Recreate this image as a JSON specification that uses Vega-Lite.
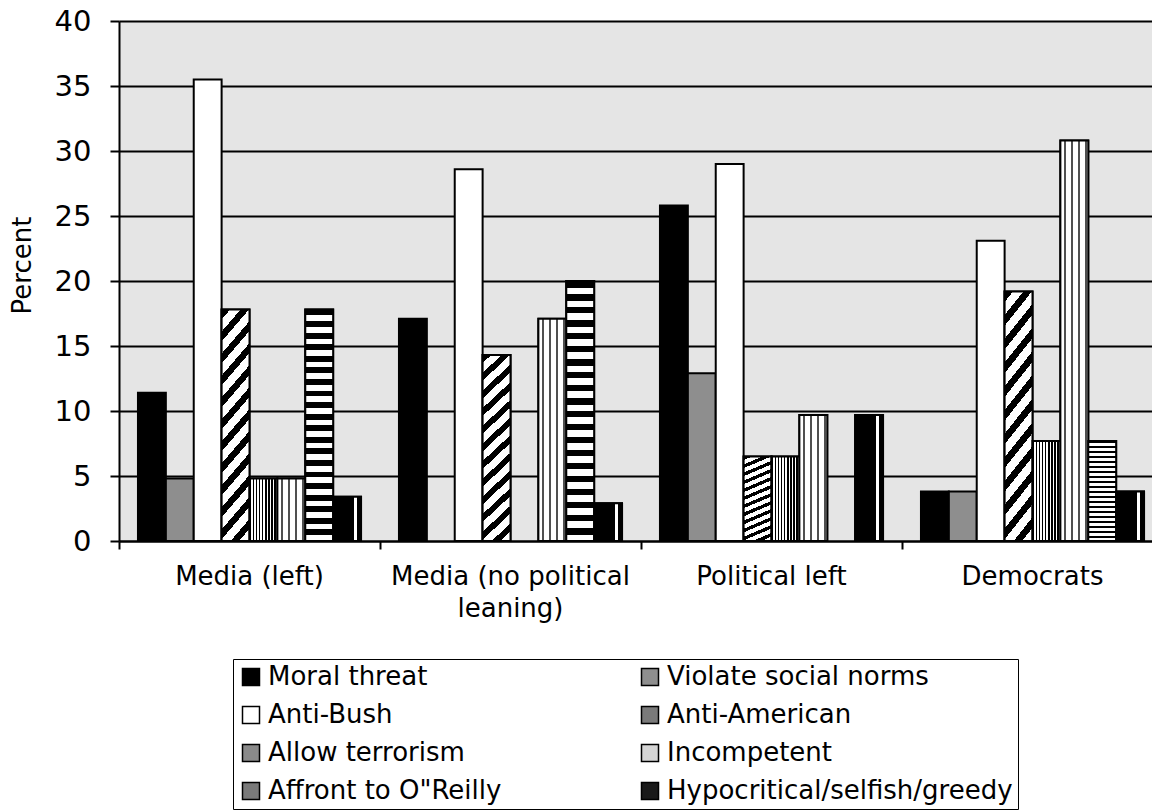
{
  "$schema": "https://vega.github.io/schema/vega-lite/v6.json",
  "autosize": "none",
  "width": 1033,
  "height": 520,
  "padding": {"left": 119, "top": 21, "right": 0, "bottom": 271},
  "background": "white",
  "config": {
    "view": {"fill": "#e5e5e5", "stroke": null},
    "font": "DejaVu Sans",
    "axis": {"domainColor": "black", "domainWidth": 2, "tickColor": "black", "tickWidth": 2, "labelColor": "black", "titleColor": "black", "labelFont": "DejaVu Sans", "titleFont": "DejaVu Sans"}
  },
  "data": {"values": [
    {"group": "Media (left)", "cat": "Moral threat", "value": 11.4},
    {"group": "Media (left)", "cat": "Violate social norms", "value": 4.8},
    {"group": "Media (left)", "cat": "Anti-Bush", "value": 35.5},
    {"group": "Media (left)", "cat": "Anti-American", "value": 17.8},
    {"group": "Media (left)", "cat": "Allow terrorism", "value": 4.8},
    {"group": "Media (left)", "cat": "Incompetent", "value": 4.8},
    {"group": "Media (left)", "cat": "Affront to O\"Reilly", "value": 17.8},
    {"group": "Media (left)", "cat": "Hypocritical/selfish/greedy", "value": 3.4},
    {"group": "Media (no political leaning)", "cat": "Moral threat", "value": 17.1},
    {"group": "Media (no political leaning)", "cat": "Anti-Bush", "value": 28.6},
    {"group": "Media (no political leaning)", "cat": "Anti-American", "value": 14.3},
    {"group": "Media (no political leaning)", "cat": "Incompetent", "value": 17.1},
    {"group": "Media (no political leaning)", "cat": "Affront to O\"Reilly", "value": 20.0},
    {"group": "Media (no political leaning)", "cat": "Hypocritical/selfish/greedy", "value": 2.9},
    {"group": "Political left", "cat": "Moral threat", "value": 25.8},
    {"group": "Political left", "cat": "Violate social norms", "value": 12.9},
    {"group": "Political left", "cat": "Anti-Bush", "value": 29.0},
    {"group": "Political left", "cat": "Anti-American", "value": 6.5},
    {"group": "Political left", "cat": "Allow terrorism", "value": 6.5},
    {"group": "Political left", "cat": "Incompetent", "value": 9.7},
    {"group": "Political left", "cat": "Hypocritical/selfish/greedy", "value": 9.7},
    {"group": "Democrats", "cat": "Moral threat", "value": 3.8},
    {"group": "Democrats", "cat": "Violate social norms", "value": 3.8},
    {"group": "Democrats", "cat": "Anti-Bush", "value": 23.1},
    {"group": "Democrats", "cat": "Anti-American", "value": 19.2},
    {"group": "Democrats", "cat": "Allow terrorism", "value": 7.7},
    {"group": "Democrats", "cat": "Incompetent", "value": 30.8},
    {"group": "Democrats", "cat": "Affront to O\"Reilly", "value": 7.7},
    {"group": "Democrats", "cat": "Hypocritical/selfish/greedy", "value": 3.8}
  ]},
  "encoding": {
    "x": {
      "field": "group", "type": "nominal",
      "sort": ["Media (left)", "Media (no political leaning)", "Political left", "Democrats"],
      "scale": {"range": [0, 1044], "paddingInner": 0, "paddingOuter": 0},
      "axis": {
        "title": null, "labelAngle": 0, "grid": false, "tickSize": 8, "bandPosition": 0,
        "labelOffset": 0, "labelPadding": 14, "labelFontSize": 26, "labelLineHeight": 32,
        "labelBaseline": "top", "labelAlign": "center", "labelLimit": 500,
        "labelExpr": "datum.value == 'Media (no political leaning)' ? ['Media (no political', 'leaning)'] : datum.label"
      }
    },
    "xOffset": {
      "field": "cat", "type": "nominal",
      "scale": {
        "domain": ["Moral threat", "Violate social norms", "Anti-Bush", "Anti-American", "Allow terrorism", "Incompetent", "Affront to O\"Reilly", "Hypocritical/selfish/greedy"],
        "paddingInner": 0, "paddingOuter": 0.68
      }
    },
    "y": {
      "field": "value", "type": "quantitative",
      "scale": {"domain": [0, 40], "nice": false},
      "axis": {
        "title": "Percent", "values": [0, 5, 10, 15, 20, 25, 30, 35, 40],
        "grid": true, "gridColor": "black", "gridWidth": 2, "gridOpacity": 1,
        "tickSize": 9, "labelPadding": 19, "labelFontSize": 29,
        "titleFontSize": 26, "titleFontWeight": "normal", "titleY": 244, "titleX": -84
      }
    }
  },
  "layer": [
    {
      "mark": {"type": "bar", "stroke": "black", "strokeWidth": 2},
      "encoding": {
        "fill": {
          "field": "cat", "type": "nominal",
          "scale": {
            "domain": ["Moral threat", "Anti-Bush", "Allow terrorism", "Affront to O\"Reilly", "Violate social norms", "Anti-American", "Incompetent", "Hypocritical/selfish/greedy"],
            "range": ["#000000", "#ffffff", "#8a8a8a", "#7a7a7a", "#8e8e8e", "#7a7a7a", "#d6d6d6", "#1a1a1a"]
          },
          "legend": {
            "title": null, "orient": "none", "legendX": 114, "legendY": 638,
            "columns": 2, "gridAlign": "all", "columnPadding": 23, "rowPadding": 12,
            "strokeColor": "black", "padding": 5,
            "symbolType": "square", "symbolSize": 289, "symbolStrokeColor": "black", "symbolStrokeWidth": 1.5,
            "labelFontSize": 26, "labelFont": "DejaVu Sans", "labelColor": "black", "labelOffset": 4, "labelLimit": 600
          }
        }
      }
    },
    {
      "transform": [{"filter": "datum.cat == 'Anti-American'"}],
      "mark": {"type": "bar", "stroke": "black", "strokeWidth": 2, "fill": {"gradient": "linear", "x1": 0, "y1": 0, "x2": 0.157, "y2": 1.118, "stops": [
            {"offset": 0, "color": "black"}, {"offset": 0.0375, "color": "black"}, {"offset": 0.0375, "color": "white"}, {"offset": 0.0833, "color": "white"},
            {"offset": 0.0833, "color": "black"}, {"offset": 0.1208, "color": "black"}, {"offset": 0.1208, "color": "white"}, {"offset": 0.1667, "color": "white"},
            {"offset": 0.1667, "color": "black"}, {"offset": 0.2042, "color": "black"}, {"offset": 0.2042, "color": "white"}, {"offset": 0.25, "color": "white"},
            {"offset": 0.25, "color": "black"}, {"offset": 0.2875, "color": "black"}, {"offset": 0.2875, "color": "white"}, {"offset": 0.3333, "color": "white"},
            {"offset": 0.3333, "color": "black"}, {"offset": 0.3708, "color": "black"}, {"offset": 0.3708, "color": "white"}, {"offset": 0.4167, "color": "white"},
            {"offset": 0.4167, "color": "black"}, {"offset": 0.4542, "color": "black"}, {"offset": 0.4542, "color": "white"}, {"offset": 0.5, "color": "white"},
            {"offset": 0.5, "color": "black"}, {"offset": 0.5375, "color": "black"}, {"offset": 0.5375, "color": "white"}, {"offset": 0.5833, "color": "white"},
            {"offset": 0.5833, "color": "black"}, {"offset": 0.6208, "color": "black"}, {"offset": 0.6208, "color": "white"}, {"offset": 0.6667, "color": "white"},
            {"offset": 0.6667, "color": "black"}, {"offset": 0.7042, "color": "black"}, {"offset": 0.7042, "color": "white"}, {"offset": 0.75, "color": "white"},
            {"offset": 0.75, "color": "black"}, {"offset": 0.7875, "color": "black"}, {"offset": 0.7875, "color": "white"}, {"offset": 0.8333, "color": "white"},
            {"offset": 0.8333, "color": "black"}, {"offset": 0.8708, "color": "black"}, {"offset": 0.8708, "color": "white"}, {"offset": 0.9167, "color": "white"},
            {"offset": 0.9167, "color": "black"}, {"offset": 0.9542, "color": "black"}, {"offset": 0.9542, "color": "white"}, {"offset": 1, "color": "white"}
          ]}},
      "encoding": {}
    },
    {
      "transform": [{"filter": "datum.cat == 'Allow terrorism'"}],
      "mark": {"type": "bar", "stroke": "black", "strokeWidth": 2, "fill": {"gradient": "linear", "x1": 0, "y1": 0, "x2": 1, "y2": 0, "stops": [
            {"offset": 0, "color": "black"}, {"offset": 0.0556, "color": "black"}, {"offset": 0.0556, "color": "white"}, {"offset": 0.1111, "color": "white"},
            {"offset": 0.1111, "color": "black"}, {"offset": 0.1667, "color": "black"}, {"offset": 0.1667, "color": "white"}, {"offset": 0.2222, "color": "white"},
            {"offset": 0.2222, "color": "black"}, {"offset": 0.2778, "color": "black"}, {"offset": 0.2778, "color": "white"}, {"offset": 0.3333, "color": "white"},
            {"offset": 0.3333, "color": "black"}, {"offset": 0.3889, "color": "black"}, {"offset": 0.3889, "color": "white"}, {"offset": 0.4444, "color": "white"},
            {"offset": 0.4444, "color": "black"}, {"offset": 0.5, "color": "black"}, {"offset": 0.5, "color": "white"}, {"offset": 0.5556, "color": "white"},
            {"offset": 0.5556, "color": "black"}, {"offset": 0.6111, "color": "black"}, {"offset": 0.6111, "color": "white"}, {"offset": 0.6667, "color": "white"},
            {"offset": 0.6667, "color": "black"}, {"offset": 0.7222, "color": "black"}, {"offset": 0.7222, "color": "white"}, {"offset": 0.7778, "color": "white"},
            {"offset": 0.7778, "color": "black"}, {"offset": 0.8333, "color": "black"}, {"offset": 0.8333, "color": "white"}, {"offset": 0.8889, "color": "white"},
            {"offset": 0.8889, "color": "black"}, {"offset": 0.9444, "color": "black"}, {"offset": 0.9444, "color": "white"}, {"offset": 1, "color": "white"}
          ]}},
      "encoding": {}
    },
    {
      "transform": [{"filter": "datum.cat == 'Incompetent'"}],
      "mark": {"type": "bar", "stroke": "black", "strokeWidth": 2, "fill": {"gradient": "linear", "x1": 0, "y1": 0, "x2": 1, "y2": 0, "stops": [
            {"offset": 0, "color": "white"}, {"offset": 0.12, "color": "white"}, {"offset": 0.12, "color": "#505050"}, {"offset": 0.2, "color": "#505050"},
            {"offset": 0.2, "color": "white"}, {"offset": 0.37, "color": "white"}, {"offset": 0.37, "color": "#505050"}, {"offset": 0.45, "color": "#505050"},
            {"offset": 0.45, "color": "white"}, {"offset": 0.62, "color": "white"}, {"offset": 0.62, "color": "#505050"}, {"offset": 0.7, "color": "#505050"},
            {"offset": 0.7, "color": "white"}, {"offset": 0.87, "color": "white"}, {"offset": 0.87, "color": "#505050"}, {"offset": 0.95, "color": "#505050"},
            {"offset": 0.95, "color": "white"}, {"offset": 1, "color": "white"}
          ]}},
      "encoding": {}
    },
    {
      "transform": [{"filter": "indexof(datum.cat, 'Affront') == 0"}],
      "mark": {"type": "bar", "stroke": "black", "strokeWidth": 2, "fill": {"gradient": "linear", "x1": 0, "y1": 0, "x2": 0, "y2": 1, "stops": [
            {"offset": 0, "color": "black"}, {"offset": 0.025, "color": "black"}, {"offset": 0.025, "color": "white"}, {"offset": 0.05, "color": "white"},
            {"offset": 0.05, "color": "black"}, {"offset": 0.075, "color": "black"}, {"offset": 0.075, "color": "white"}, {"offset": 0.1, "color": "white"},
            {"offset": 0.1, "color": "black"}, {"offset": 0.125, "color": "black"}, {"offset": 0.125, "color": "white"}, {"offset": 0.15, "color": "white"},
            {"offset": 0.15, "color": "black"}, {"offset": 0.175, "color": "black"}, {"offset": 0.175, "color": "white"}, {"offset": 0.2, "color": "white"},
            {"offset": 0.2, "color": "black"}, {"offset": 0.225, "color": "black"}, {"offset": 0.225, "color": "white"}, {"offset": 0.25, "color": "white"},
            {"offset": 0.25, "color": "black"}, {"offset": 0.275, "color": "black"}, {"offset": 0.275, "color": "white"}, {"offset": 0.3, "color": "white"},
            {"offset": 0.3, "color": "black"}, {"offset": 0.325, "color": "black"}, {"offset": 0.325, "color": "white"}, {"offset": 0.35, "color": "white"},
            {"offset": 0.35, "color": "black"}, {"offset": 0.375, "color": "black"}, {"offset": 0.375, "color": "white"}, {"offset": 0.4, "color": "white"},
            {"offset": 0.4, "color": "black"}, {"offset": 0.425, "color": "black"}, {"offset": 0.425, "color": "white"}, {"offset": 0.45, "color": "white"},
            {"offset": 0.45, "color": "black"}, {"offset": 0.475, "color": "black"}, {"offset": 0.475, "color": "white"}, {"offset": 0.5, "color": "white"},
            {"offset": 0.5, "color": "black"}, {"offset": 0.525, "color": "black"}, {"offset": 0.525, "color": "white"}, {"offset": 0.55, "color": "white"},
            {"offset": 0.55, "color": "black"}, {"offset": 0.575, "color": "black"}, {"offset": 0.575, "color": "white"}, {"offset": 0.6, "color": "white"},
            {"offset": 0.6, "color": "black"}, {"offset": 0.625, "color": "black"}, {"offset": 0.625, "color": "white"}, {"offset": 0.65, "color": "white"},
            {"offset": 0.65, "color": "black"}, {"offset": 0.675, "color": "black"}, {"offset": 0.675, "color": "white"}, {"offset": 0.7, "color": "white"},
            {"offset": 0.7, "color": "black"}, {"offset": 0.725, "color": "black"}, {"offset": 0.725, "color": "white"}, {"offset": 0.75, "color": "white"},
            {"offset": 0.75, "color": "black"}, {"offset": 0.775, "color": "black"}, {"offset": 0.775, "color": "white"}, {"offset": 0.8, "color": "white"},
            {"offset": 0.8, "color": "black"}, {"offset": 0.825, "color": "black"}, {"offset": 0.825, "color": "white"}, {"offset": 0.85, "color": "white"},
            {"offset": 0.85, "color": "black"}, {"offset": 0.875, "color": "black"}, {"offset": 0.875, "color": "white"}, {"offset": 0.9, "color": "white"},
            {"offset": 0.9, "color": "black"}, {"offset": 0.925, "color": "black"}, {"offset": 0.925, "color": "white"}, {"offset": 0.95, "color": "white"},
            {"offset": 0.95, "color": "black"}, {"offset": 0.975, "color": "black"}, {"offset": 0.975, "color": "white"}, {"offset": 1, "color": "white"}
          ]}},
      "encoding": {}
    },
    {
      "transform": [{"filter": "indexof(datum.cat, 'Hypocritical') == 0"}],
      "mark": {"type": "bar", "stroke": "black", "strokeWidth": 2, "fill": {"gradient": "linear", "x1": 0, "y1": 0, "x2": 1, "y2": 0, "stops": [
            {"offset": 0, "color": "black"}, {"offset": 0.76, "color": "black"}, {"offset": 0.76, "color": "white"}, {"offset": 0.86, "color": "white"},
            {"offset": 0.86, "color": "black"}, {"offset": 1, "color": "black"}
          ]}},
      "encoding": {}
    }
  ]
}
